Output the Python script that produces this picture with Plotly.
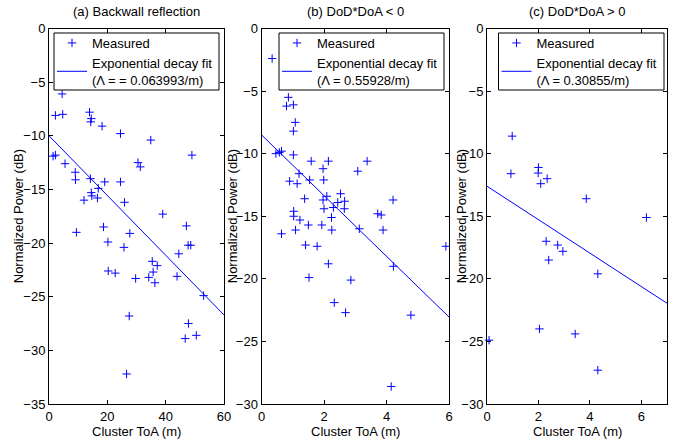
import plotly.graph_objects as go

W, H = 683, 444

# ---------------- data ----------------
# (a) Backwall reflection
a_toa = [4.5, 2.2, 4.7, 13.9, 14.5, 14.3, 18.2, 24.5, 34.9, 1.4, 2.2, 49.0, 5.5, 9.0, 9.1,
         30.5, 31.3, 14.2, 19.1, 24.5, 14.5, 14.7, 16.9, 16.6, 12.0, 25.9, 39.0,
         9.4, 18.7, 27.7, 20.2, 25.7, 47.1, 47.7, 48.6, 44.5, 35.4, 37.1, 20.3, 22.7,
         35.7, 29.7, 34.2, 36.3, 43.9, 53.0, 27.5, 47.8, 46.7, 50.5, 26.6]
a_pow = [-6.1, -8.1, -8.0, -7.8, -8.4, -8.7, -9.1, -9.8, -10.4, -11.9, -11.8, -11.8, -12.6, -13.4, -14.1,
         -12.5, -12.9, -14.0, -14.3, -14.3, -15.3, -15.6, -14.9, -15.8, -16.0, -16.2, -17.3,
         -19.0, -18.5, -19.1, -19.9, -20.4, -18.4, -20.2, -20.2, -21.0, -21.7, -22.1, -22.6, -22.8,
         -22.7, -23.3, -23.2, -23.7, -23.1, -24.9, -26.8, -27.5, -28.9, -28.6, -32.2]
a_fit_x = [0, 60]
a_fit_y = [-10.0, -26.7]
a_label = "Exponential decay fit<br>(\u039b = = 0.063993/m)"

# (b) DoD*DoA < 0
b_toa = [0.34, 0.86, 0.80, 1.02, 1.08, 1.02, 0.46, 0.57, 0.64, 1.02, 1.59, 2.14, 1.97, 3.38, 3.08,
         1.20, 0.90, 1.14, 1.54, 1.99, 1.38, 2.53, 2.09, 1.97, 2.44, 2.66, 2.30, 2.00, 2.65,
         4.21, 3.72, 3.83, 1.03, 1.03, 2.24, 1.23,
         0.64, 1.09, 1.50, 1.93, 2.25, 3.13, 3.89, 1.41, 1.78, 5.90, 2.14, 4.22, 1.52, 2.86,
         2.33, 2.69, 4.78, 4.15]
b_pow = [-2.4, -5.5, -6.2, -6.1, -7.5, -8.2, -10.0, -9.9, -9.8, -10.1, -10.6, -10.6, -11.2, -10.6, -11.4,
         -11.6, -12.2, -12.4, -12.1, -12.1, -13.6, -13.2, -13.4, -13.7, -13.9, -13.8, -14.3, -14.4, -14.4,
         -13.7, -14.8, -14.9, -14.6, -15.0, -15.1, -15.3,
         -16.4, -16.1, -15.7, -15.7, -16.1, -16.0, -16.1, -17.3, -17.4, -17.4, -18.8, -19.0, -19.9, -20.1,
         -21.9, -22.7, -22.9, -28.6]
b_fit_x = [0, 6]
b_fit_y = [-8.5, -23.05]
b_label = "Exponential decay fit<br>(\u039b = 0.55928/m)"

# (c) DoD*DoA > 0
c_toa = [0.98, 0.93, 2.00, 1.99, 2.09, 2.34, 3.86, 6.20, 2.30, 2.75, 2.95, 2.40, 4.31, 2.04, 3.43, 0.08, 4.31]
c_pow = [-8.6, -11.6, -11.1, -11.55, -12.4, -12.0, -13.6, -15.1, -17.0, -17.3, -17.8, -18.5, -19.6,
         -24.0, -24.4, -24.9, -27.3]
c_fit_x = [0, 7]
c_fit_y = [-12.6, -21.95]
c_label = "Exponential decay fit<br>(\u039b = 0.30855/m)"

titles = ["(a) Backwall reflection", "(b) DoD*DoA < 0", "(c) DoD*DoA > 0"]
x_ranges = [[0, 60], [0, 6], [0, 7]]
x_ticks = [[0, 20, 40, 60], [0, 2, 4, 6], [0, 2, 4, 6]]
y_ranges = [[-35, 0], [-30, 0], [-30, 0]]
y_ticks = [[0, -5, -10, -15, -20, -25, -30, -35], [0, -5, -10, -15, -20, -25, -30],
           [0, -5, -10, -15, -20, -25, -30]]

# ---------------- layout geometry (pixels) ----------------
panels_px = [(49, 224), (261.5, 449), (487, 667)]
top_px, bot_px = 28.5, 404
ytitle_px = [18, 232, 461]
legend_box_px = [(54, 33, 219, 90), (279, 33, 444, 90), (498.5, 33, 664, 90)]

FONT = "Liberation Sans, Arial, sans-serif"
FS = 13
BLUE = "#0000ff"

fig = go.Figure()
datasets = [(a_toa, a_pow, a_fit_x, a_fit_y, a_label),
            (b_toa, b_pow, b_fit_x, b_fit_y, b_label),
            (c_toa, c_pow, c_fit_x, c_fit_y, c_label)]

annotations = []
shapes = []
layout = {}
for i, (xs, ys, fx, fy, lab) in enumerate(datasets):
    n = "" if i == 0 else str(i + 1)
    leg = "legend" + n
    fig.add_trace(go.Scatter(x=xs, y=ys, mode="markers", name="Measured",
                             marker=dict(symbol="cross-thin", size=6, color=BLUE,
                                         line=dict(width=1, color=BLUE)),
                             xaxis="x" + n, yaxis="y" + n, legend=leg, cliponaxis=False))
    fig.add_trace(go.Scatter(x=fx, y=fy, mode="lines", name=lab,
                             line=dict(color=BLUE, width=1),
                             xaxis="x" + n, yaxis="y" + n, legend=leg))
    x0, x1 = panels_px[i]
    dom_x = [x0 / W, x1 / W]
    dom_y = [1 - bot_px / H, 1 - top_px / H]
    axcommon = dict(showline=True, linecolor="black", linewidth=1, mirror="ticks",
                    ticks="inside", ticklen=4, tickcolor="black", tickwidth=1,
                    showgrid=False, zeroline=False, automargin=False,
                    tickfont=dict(family=FONT, size=FS, color="black"))
    layout["xaxis" + n] = dict(domain=dom_x, range=x_ranges[i], tickvals=x_ticks[i],
                               anchor="y" + n, **axcommon)
    layout["yaxis" + n] = dict(domain=dom_y, range=y_ranges[i], tickvals=y_ticks[i],
                               anchor="x" + n, **axcommon)
    bx0, by0, bx1, by1 = legend_box_px[i]
    # legend box drawn as a shape; legend itself transparent on top of it
    shapes.append(dict(type="rect", xref="paper", yref="paper",
                       x0=bx0 / W, x1=bx1 / W, y0=1 - by1 / H, y1=1 - by0 / H,
                       line=dict(color="black", width=1), fillcolor="white", layer="above"))
    layout[leg] = dict(x=(bx0 - 2) / W, y=1 - (by0 - 5) / H, xanchor="left", yanchor="top",
                       xref="paper", yref="paper",
                       bgcolor="rgba(0,0,0,0)", borderwidth=0,
                       font=dict(family=FONT, size=FS, color="black"),
                       tracegroupgap=0)
    cx = (x0 + x1) / 2
    annotations.append(dict(text=titles[i], x=cx / W, y=1 - 12 / H, xref="paper", yref="paper",
                            showarrow=False, xanchor="center", yanchor="middle",
                            font=dict(family=FONT, size=FS, color="black")))
    annotations.append(dict(text="Cluster ToA (m)", x=cx / W, y=1 - 431 / H, xref="paper",
                            yref="paper", showarrow=False, xanchor="center", yanchor="middle",
                            font=dict(family=FONT, size=FS, color="black")))
    annotations.append(dict(text="Normalized Power (dB)", x=ytitle_px[i] / W,
                            y=1 - ((top_px + bot_px) / 2) / H, xref="paper", yref="paper",
                            showarrow=False, textangle=-90, xanchor="center", yanchor="middle",
                            font=dict(family=FONT, size=FS, color="black")))

fig.update_layout(width=W, height=H, margin=dict(l=0, r=0, t=0, b=0, pad=0, autoexpand=False),
                  paper_bgcolor="white", plot_bgcolor="white", showlegend=True,
                  annotations=annotations, shapes=shapes, **layout)

fig.write_html("out.html")
